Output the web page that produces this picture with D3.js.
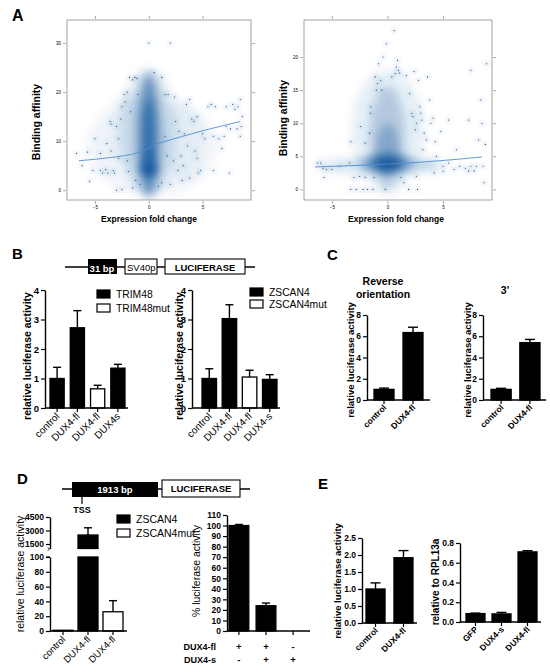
<!DOCTYPE html>
<html><head><meta charset="utf-8">
<script src="https://cdn.jsdelivr.net/npm/d3@7"></script>
<style>
body{margin:0;background:#fff}
svg{display:block}
text{font-family:Arial,"Liberation Sans",Helvetica,sans-serif;fill:#000}
</style>
</head><body>
<svg id="fig" width="550" height="672"></svg>
<script>
// ================= DATA =================
// Panel A (left): outlying points [fold change, binding affinity]
const aLeftPoints = [
 [-6.7,7.5],[-6.2,5],[-5.7,7.8],[-5.5,1.8],[-5,10.5],[-4.5,4],[-4.3,3.5],[-4,4.2],[-3.8,3.5],
 [-3.6,14],[-3.5,13.5],[-3.3,4],[-3.2,3.5],[-3,13],[-3,0],[-2.8,10.5],[-2.6,14.5],[-2.5,0.2],
 [-2.5,17],[-2.3,19.5],[-2.2,18],[-2,20],[-1.8,23],[-1.7,16],[-1.5,22.5],[-1.3,23],[-1.1,22.8],
 [-1,19.5],[-1.2,2],[-0.8,1.2],[-1.5,0.5],[-2,6],[-2.8,6.5],[-3.5,8],[-4.5,7.5],[-5.2,4],
 [0,30],[2,30],[0.5,24],[1.2,23],[1.5,19.5],[1.8,19.5],[1.2,1.5],[2,1.2],[2.4,19],[2.5,14],
 [2.8,12],[3,7],[3.2,5],[3.5,17.5],[3.6,9],[3.8,2.5],[3.8,18.5],[4,14.5],[4.2,14],[4.3,8],
 [4.5,6.5],[4.8,4],[5,11.5],[4.5,15],[5.2,10.5],[5.5,17],[6,11],[6,4],[6.5,10.5],[6.8,8.5],
 [7,11],[7.2,17],[7.5,3.5],[7.6,12.5],[7.8,17.5],[8,16.5],[8.2,12.5],[8.3,17],[8.5,18.5],
 [8.5,11],[8.7,15],[8.6,13],[7.2,13],[6.2,17],[5.8,17.5],[3.1,2],[2.7,4],[1.5,11],[1.7,7],
 [2.3,6],[0.9,0.8],[-1.9,3.8],[-3.9,9.5],[4.6,3.5],[3.3,11.5]
];
// Panel A (left): smoothed density [x, y, halfWidth, halfHeight, opacity]
const aLeftDensity = [
 [0.3,9,6,10,0.06],[0,11.5,2.6,13,0.13],[0,11.5,1.3,13,0.32],[0,11,0.85,12,0.42],
 [0,12,0.55,6.5,0.55],[0,6,0.8,3,0.55],[0,4.2,1.0,1.5,0.9],[0,4,0.6,0.9,0.85],
 [-2,12,1.5,8,0.06],[3,10,2,8,0.05]
];
const aLeftTrend = [[-6.5,6],[-4,6.5],[-2,7.1],[-1,7.6],[0,8.5],[0.6,9.3],[2,10.3],[4,11.5],[6,12.7],[8.5,14]];
const aLeftXTicks = [-5,0,5];
const aLeftYTicks = [0,10,20,30];

// Panel A (right)
const aRightPoints = [
 [-6.3,4],[-6,4],[-5.8,3.2],[-5.7,1.8],[-5.5,3],[-5,3],[-4.3,3.5],[-3.3,7.2],[-3.4,4],[-3,1.8],
 [-3.3,0],[-2.8,0],[-2.5,2],[-2.2,0],[-2.4,9.5],[-2,1.8],[-2,7],[-1.8,0],[-1.6,8.5],[-1.5,11.5],
 [-1.5,12.5],[-1.3,0],[-1.2,1.8],[-1.1,17],[-1,15],[-0.9,16],[-0.8,19],[-0.6,16.5],[-0.5,15],
 [-0.4,20],[-0.2,0],[0.4,17],[0.7,17.5],[0.8,18.5],[0.9,19.5],[1,18],[1.1,17.6],[1.2,1.8],
 [1.5,1],[1.7,17.2],[1.9,0],[2,14.5],[2.2,11.5],[2.3,11],[2.4,17.8],[2.6,10],[2.5,9],[2.8,16.5],
 [2.9,12.5],[3,11.5],[3.1,10.5],[2.7,0],[2.6,2],[3.3,8.5],[3.5,7.5],[3.2,6],[3.6,17],[3.8,13.5],
 [3.9,10],[4.1,10.8],[4.3,7.2],[4.4,5],[4.8,8.8],[4.2,2.5],[5,3.5],[5,2.7],[5.5,4],[6,3],[6.2,6],
 [6.5,3.5],[7,3.2],[7.3,2.8],[7.5,3.5],[7.8,2.8],[8,3.5],[8.2,7.5],[8.4,13.5],[8.6,3.5],[8.7,1],
 [8.8,6.8],[8.9,19],[8.5,10],[-0.1,22],[0.6,24],[5.5,10.5],[7.3,10.5],[7.5,18]
];
const aRightDensity = [
 [0,9,3.2,9,0.1],[0,8,1.6,7.5,0.25],[0,6,1,4,0.3],[-0.8,3.6,5.5,1.3,0.15],[1,3.8,4,1.2,0.12],
 [0,4,2.2,1.5,0.5],[0,3.7,1.2,1.0,0.95],[0,3.6,0.7,0.7,0.85],[0,0,1.1,0.35,0.15]
];
const aRightTrend = [[-6.5,3.4],[-3,3.6],[0,3.8],[3,4.1],[6,4.5],[8.5,4.9]];
const aRightXTicks = [-5,0,5];
const aRightYTicks = [0,5,10,15,20];

// Panel B
const bLeftCats = ["control","DUX4-fl","DUX4-fl","DUX4s"];
const bLeftVals = [1.0,2.72,0.65,1.35];
const bLeftErr  = [0.38,0.58,0.12,0.13];
const bLeftGroup = ["TRIM48","TRIM48","TRIM48mut","TRIM48"];
const bLeftLegend = ["TRIM48","TRIM48mut"];
const bRightCats = ["control","DUX4-fl","DUX4-fl","DUX4-s"];
const bRightVals = [1.0,3.03,1.05,0.97];
const bRightErr  = [0.33,0.47,0.23,0.16];
const bRightGroup = ["ZSCAN4","ZSCAN4","ZSCAN4mut","ZSCAN4"];
const bRightLegend = ["ZSCAN4","ZSCAN4mut"];
const bYTicks = [0,1,2,3,4];

// Panel C
const cCats = ["control","DUX4-fl"];
const cRevVals = [1.0,6.35];
const cRevErr  = [0.12,0.5];
const c3Vals = [1.0,5.4];
const c3Err  = [0.1,0.3];
const cYTicks = [0,2,4,6,8];

// Panel D
const dLeftCats = ["control","DUX4-fl","DUX4-fl"];
const dLeftVals = [1,2500,26];
const dLeftErr  = [0,800,15];
const dLeftGroup = ["ZSCAN4","ZSCAN4","ZSCAN4mut"];
const dLeftLegend = ["ZSCAN4","ZSCAN4mut"];
const dLowTicks = [0,20,40,60,80,100];
const dHighTicks = [1500,3000,4500];
const dRightVals = [100,24,0];
const dRightErr  = [1,2.5,0];
const dRightTicks = [0,10,20,30,40,50,60,70,80,90,100,110];
const dRowFl = ["+","+","-"];
const dRowS  = ["-","+","+"];

// Panel E
const eLeftCats = ["control","DUX4-fl"];
const eLeftVals = [1.0,1.92];
const eLeftErr  = [0.18,0.21];
const eLeftTicks = [0,0.5,1,1.5,2,2.5];
const eRightCats = ["GFP","DUX4-s","DUX4-fl"];
const eRightVals = [0.085,0.082,0.71];
const eRightErr  = [0.005,0.015,0.012];
const eRightTicks = [0,0.2,0.4,0.6,0.8];

// ================= DRAWING =================
const svg = d3.select("#fig");
const defs = svg.append("defs");
const fb = defs.append("filter").attr("id","blur").attr("x","-50%").attr("y","-50%").attr("width","200%").attr("height","200%");
fb.append("feGaussianBlur").attr("stdDeviation",4);
const fh = defs.append("filter").attr("id","blurS").attr("x","-100%").attr("y","-100%").attr("width","300%").attr("height","300%");
fh.append("feGaussianBlur").attr("stdDeviation",1.5);

function label(t,x,y,size,weight,anchor){
  return svg.append("text").attr("x",x).attr("y",y).attr("font-size",size)
    .attr("font-weight",weight||"normal").attr("text-anchor",anchor||"start").text(t);
}
function vlabel(t,x,y,size,weight){
  return svg.append("text").attr("transform",`translate(${x},${y}) rotate(-90)`)
    .attr("font-size",size).attr("font-weight",weight||"normal").attr("text-anchor","middle").text(t);
}

function scatterPanel(o){
  const g = svg.append("g");
  const x = d3.scaleLinear().domain(o.xDomain).range([o.left,o.right]);
  const y = d3.scaleLinear().domain(o.yDomain).range([o.bottom,o.top]);
  const cid = "clip"+o.id;
  defs.append("clipPath").attr("id",cid).append("rect")
    .attr("x",o.left).attr("y",o.top).attr("width",o.right-o.left).attr("height",o.bottom-o.top);
  const dens = g.append("g").attr("clip-path",`url(#${cid})`);
  dens.append("g").attr("filter","url(#blur)").selectAll("ellipse").data(o.density).join("ellipse")
    .attr("cx",d=>x(d[0])).attr("cy",d=>y(d[1]))
    .attr("rx",d=>Math.abs(x(d[2])-x(0))).attr("ry",d=>Math.abs(y(0)-y(d[3])))
    .attr("fill","#14589c").attr("opacity",d=>d[4]);
  dens.append("g").attr("filter","url(#blurS)").selectAll("circle").data(o.points).join("circle")
    .attr("cx",d=>x(d[0])).attr("cy",d=>y(d[1])).attr("r",3)
    .attr("fill","#6fa8dc").attr("opacity",0.16);
  dens.append("g").selectAll("circle").data(o.points).join("circle")
    .attr("cx",d=>x(d[0])).attr("cy",d=>y(d[1])).attr("r",0.55).attr("fill","#1c2b4a");
  dens.append("path").datum(o.trend)
    .attr("d",d3.line().x(d=>x(d[0])).y(d=>y(d[1])).curve(d3.curveBasis))
    .attr("fill","none").attr("stroke","#4f8bd0").attr("stroke-width",0.9);
  g.append("rect").attr("x",o.left).attr("y",o.top).attr("width",o.right-o.left).attr("height",o.bottom-o.top)
    .attr("fill","none").attr("stroke","#8a8a8a").attr("stroke-width",0.8);
  const axes = [
    [d3.axisBottom(x).tickValues(o.xTicks),`translate(0,${o.bottom+1})`],
    [d3.axisTop(x).tickValues(o.xTicks).tickFormat(""),`translate(0,${o.top-1})`],
    [d3.axisLeft(y).tickValues(o.yTicks),`translate(${o.left-1},0)`],
    [d3.axisRight(y).tickValues(o.yTicks).tickFormat(""),`translate(${o.right+1},0)`]
  ];
  axes.forEach(a=>{
    const ag = g.append("g").attr("transform",a[1]).call(a[0].tickSize(3).tickPadding(2));
    ag.select(".domain").remove();
    ag.selectAll("line").attr("stroke","#8a8a8a").attr("stroke-width",0.7);
    ag.selectAll("text").attr("font-size",4.5).attr("fill","#555").attr("font-family","Arial");
  });
}

function styleAxis(ag,size){
  ag.select(".domain").attr("stroke","#000").attr("stroke-width",1.4);
  ag.selectAll(".tick line").attr("stroke","#000").attr("stroke-width",1.2);
  ag.selectAll("text").attr("font-size",size).attr("font-weight","bold").attr("font-family","Arial").attr("fill","#000");
}

function barChart(o){
  const g = svg.append("g");
  const n = o.vals.length;
  const x = d3.scaleBand().domain(d3.range(n)).range(o.band).paddingInner(o.pi).paddingOuter(0);
  const y = d3.scaleLinear().domain(o.yDomain).range(o.yRange);
  const bw = x.bandwidth();
  const cap = o.cap || 4;
  o.vals.forEach((v,i)=>{
    const cx = x(i)+bw/2;
    const e = o.errs[i];
    if(e>0){
      g.append("line").attr("x1",cx).attr("x2",cx).attr("y1",y(v)).attr("y2",y(v+e)).attr("stroke","#000").attr("stroke-width",1.4);
      g.append("line").attr("x1",cx-cap).attr("x2",cx+cap).attr("y1",y(v+e)).attr("y2",y(v+e)).attr("stroke","#000").attr("stroke-width",1.4);
    }
  });
  g.selectAll("rect.bar").data(o.vals).join("rect").attr("class","bar")
    .attr("x",(d,i)=>x(i)).attr("width",bw)
    .attr("y",d=>y(d)).attr("height",d=>Math.max(0,y(0)-y(d)))
    .attr("fill",(d,i)=>o.fills?o.fills[i]:"#000").attr("stroke","#000").attr("stroke-width",1.3);
  const ya = g.append("g").attr("transform",`translate(${o.axisX},0)`)
    .call(d3.axisLeft(y).tickValues(o.yTicks).tickSize(4).tickSizeOuter(0).tickPadding(2).tickFormat(o.fmt||d3.format("d")));
  styleAxis(ya,o.tickFont||8.5);
  const y0 = y(0);
  g.append("line").attr("x1",o.axisX).attr("x2",o.xEnd).attr("y1",y0).attr("y2",y0).attr("stroke","#000").attr("stroke-width",1.4);
  d3.range(n).forEach(i=>{
    const cx = x(i)+bw/2;
    g.append("line").attr("x1",cx).attr("x2",cx).attr("y1",y0).attr("y2",y0+4).attr("stroke","#000").attr("stroke-width",1.2);
  });
  if(o.cats){
    o.cats.forEach((c,i)=>{
      const cx = x(i)+bw/2;
      g.append("text").attr("transform",`translate(${cx+3},${y0+(o.catDy||8)}) rotate(-45)`)
        .attr("text-anchor","end").attr("font-size",o.catFont||9).attr("font-weight",o.catWeight||"normal").text(c);
    });
  }
  return {x,y};
}

function legend(items,x,y,gap,size){
  items.forEach((t,i)=>{
    svg.append("rect").attr("x",x).attr("y",y+i*gap-8).attr("width",13).attr("height",8)
      .attr("fill",i===0?"#000":"#fff").attr("stroke","#000").attr("stroke-width",1.2);
    label(t,x+19,y+i*gap,size,"normal");
  });
}
const groupFill = g => /mut$/.test(g) ? "#fff" : "#000";

// ---------- Panel A ----------
label("A",12,21,16,"bold");
scatterPanel({id:"al",left:67,right:251,top:20,bottom:200,xDomain:[-7.6,9.5],yDomain:[-2,34.7],
  points:aLeftPoints,density:aLeftDensity,trend:aLeftTrend,xTicks:aLeftXTicks,yTicks:aLeftYTicks});
scatterPanel({id:"ar",left:304,right:492,top:20,bottom:200,xDomain:[-7.5,9.4],yDomain:[-1.6,25.6],
  points:aRightPoints,density:aRightDensity,trend:aRightTrend,xTicks:aRightXTicks,yTicks:aRightYTicks});
vlabel("Binding affinity",40,122,10.5,"bold");
vlabel("Binding affinity",287,118,10.5,"bold");
label("Expression fold change",149,222,8.5,"bold","middle");
label("Expression fold change",396,222,8.5,"bold","middle");

// ---------- Panel B ----------
label("B",12,259,15,"bold");
svg.append("line").attr("x1",65).attr("x2",255).attr("y1",267).attr("y2",267).attr("stroke","#000").attr("stroke-width",1.3);
svg.append("rect").attr("x",88).attr("y",259).attr("width",29).attr("height",15).attr("fill","#000");
label("31 bp",102,272,9.5,"bold","middle").style("fill","#fff");
svg.append("rect").attr("x",125).attr("y",259).attr("width",32).attr("height",15).attr("fill","#fff").attr("stroke","#000").attr("stroke-width",1.1);
label("SV40p",127,271,9.5,"normal");
svg.append("rect").attr("x",165).attr("y",259).attr("width",80).attr("height",15).attr("fill","#fff").attr("stroke","#000").attr("stroke-width",1.1);
label("LUCIFERASE",205,271,9.5,"bold","middle");

barChart({vals:bLeftVals,errs:bLeftErr,cats:bLeftCats,fills:bLeftGroup.map(groupFill),
  band:[50,125],pi:0.3,axisX:45,xEnd:128,yDomain:[0,4],yRange:[408,290],yTicks:bYTicks,cap:4,tickFont:9.5,catFont:10,catDy:9});
barChart({vals:bRightVals,errs:bRightErr,cats:bRightCats,fills:bRightGroup.map(groupFill),
  band:[202,277],pi:0.28,axisX:192,xEnd:280,yDomain:[0,4],yRange:[408,290],yTicks:bYTicks,cap:4,tickFont:9.5,catFont:10,catDy:9});
legend(bLeftLegend,97,298,14,10.3);
legend(bRightLegend,250,296,12,10.3);
vlabel("relative luciferase activity",31,356,10.5,"bold");
vlabel("relative luciferase activity",183,356,10.5,"bold");

// ---------- Panel C ----------
label("C",327,260,15,"bold");
label("Reverse",383,285,10.5,"bold","middle");
label("orientation",383,298,10.5,"bold","middle");
label("3'",505,294,10.5,"bold","middle");
barChart({vals:cRevVals,errs:cRevErr,cats:cCats,band:[374,423],pi:0.31,axisX:367,xEnd:430,
  yDomain:[0,8],yRange:[400,315],yTicks:cYTicks,cap:5,tickFont:8.5,catFont:8.5,catWeight:"bold"});
barChart({vals:c3Vals,errs:c3Err,cats:cCats,band:[491,540],pi:0.3,axisX:483,xEnd:546,
  yDomain:[0,8],yRange:[400,315],yTicks:cYTicks,cap:5,tickFont:8.5,catFont:8.5,catWeight:"bold"});
vlabel("relative luciferase activity",354,360,9.5,"bold");
vlabel("relative luciferase activity",471,360,9.5,"bold");

// ---------- Panel D ----------
label("D",17,484,15,"bold");
svg.append("line").attr("x1",62).attr("x2",250).attr("y1",489).attr("y2",489).attr("stroke","#000").attr("stroke-width",1.3);
svg.append("rect").attr("x",72).attr("y",482).attr("width",86).attr("height",15).attr("fill","#000");
label("1913 bp",115,493,9.5,"bold","middle").style("fill","#fff");
svg.append("rect").attr("x",162).attr("y",480).attr("width",78).attr("height",17).attr("fill","#fff").attr("stroke","#000").attr("stroke-width",1.1);
label("LUCIFERASE",201,492,9.5,"bold","middle");
svg.append("line").attr("x1",82).attr("x2",82).attr("y1",497).attr("y2",504).attr("stroke","#000").attr("stroke-width",1.2);
label("TSS",82,513,9,"bold","middle");

(function(){
  const g = svg.append("g");
  const n = dLeftVals.length;
  const x = d3.scaleBand().domain(d3.range(n)).range([53,123]).paddingInner(0.2).paddingOuter(0);
  const yL = d3.scaleLinear().domain([0,100]).range([631,557]);
  const yU = d3.scaleLinear().domain([1000,4500]).range([548.5,517]);
  const bw = x.bandwidth();
  const fills = dLeftGroup.map(groupFill);
  dLeftVals.forEach((v,i)=>{
    const cx = x(i)+bw/2, e = dLeftErr[i];
    if(e>0){
      const yt = v>100?yU(v):yL(v), ye = v+e>100?yU(v+e):yL(v+e);
      g.append("line").attr("x1",cx).attr("x2",cx).attr("y1",yt).attr("y2",ye).attr("stroke","#000").attr("stroke-width",1.4);
      g.append("line").attr("x1",cx-4).attr("x2",cx+4).attr("y1",ye).attr("y2",ye).attr("stroke","#000").attr("stroke-width",1.4);
    }
    const lowTop = Math.min(v,100);
    g.append("rect").attr("x",x(i)).attr("width",bw).attr("y",yL(lowTop)).attr("height",Math.max(0,yL(0)-yL(lowTop)))
      .attr("fill",fills[i]).attr("stroke","#000").attr("stroke-width",1.3);
    if(v>1000){
      g.append("rect").attr("x",x(i)).attr("width",bw).attr("y",yU(v)).attr("height",yU(1000)-yU(v))
        .attr("fill",fills[i]).attr("stroke","#000").attr("stroke-width",1.3);
    }
  });
  const aL = g.append("g").attr("transform","translate(50,0)")
    .call(d3.axisLeft(yL).tickValues(dLowTicks).tickSize(4).tickSizeOuter(0).tickPadding(2).tickFormat(d3.format("d")));
  styleAxis(aL,8.5);
  const aU = g.append("g").attr("transform","translate(50,0)")
    .call(d3.axisLeft(yU).tickValues(dHighTicks).tickSize(4).tickSizeOuter(0).tickPadding(2).tickFormat(d3.format("d")));
  styleAxis(aU,8.5);
  g.append("path").attr("d",`M48,${yU(1000)-1} q3,1.5 0,3`).attr("fill","none").attr("stroke","#000").attr("stroke-width",1);
  g.append("line").attr("x1",46).attr("x2",50).attr("y1",yL(100)).attr("y2",yL(100)).attr("stroke","#000").attr("stroke-width",1.2);
  g.append("line").attr("x1",50).attr("x2",127).attr("y1",yL(0)).attr("y2",yL(0)).attr("stroke","#000").attr("stroke-width",1.4);
  dLeftCats.forEach((c,i)=>{
    const cx = x(i)+bw/2;
    g.append("line").attr("x1",cx).attr("x2",cx).attr("y1",631).attr("y2",635).attr("stroke","#000").attr("stroke-width",1.2);
    g.append("text").attr("transform",`translate(${cx+3},${640}) rotate(-45)`)
      .attr("text-anchor","end").attr("font-size",9.5).text(c);
  });
})();
legend(dLeftLegend,117,523,14,10.5);
vlabel("relative luciferase activity",24,574,10.5,"normal");

const dR = barChart({vals:dRightVals,errs:dRightErr,band:[229,303],pi:0.27,axisX:227,xEnd:310,
  yDomain:[0,110],yRange:[631,515],yTicks:dRightTicks,cap:4,tickFont:8.5});
vlabel("% luciferase activity",200,571,10.5,"normal");
label("DUX4-fl",216,650,9,"bold","end");
label("DUX4-s",216,663,9,"bold","end");
dRowFl.forEach((s,i)=>label(s,dR.x(i)+dR.x.bandwidth()/2,650,9.5,"bold","middle"));
dRowS.forEach((s,i)=>label(s,dR.x(i)+dR.x.bandwidth()/2,663,9.5,"bold","middle"));

// ---------- Panel E ----------
label("E",318,489,15,"bold");
barChart({vals:eLeftVals,errs:eLeftErr,cats:eLeftCats,band:[366,413],pi:0.32,axisX:362,xEnd:417,
  yDomain:[0,2.5],yRange:[623,538],yTicks:eLeftTicks,fmt:d3.format(".1f"),cap:5,tickFont:8.5,catFont:8.5,catWeight:"bold"});
barChart({vals:eRightVals,errs:eRightErr,cats:eRightCats,band:[466,537],pi:0.27,axisX:460,xEnd:541,
  yDomain:[0,0.8],yRange:[622,543],yTicks:eRightTicks,fmt:d3.format(".1f"),cap:5,tickFont:8.5,catFont:8.5,catWeight:"bold"});
vlabel("relative luciferase activity",341,581,9.5,"bold");
vlabel("relative to RPL13a",439,582,10,"bold");
</script>
</body></html>
